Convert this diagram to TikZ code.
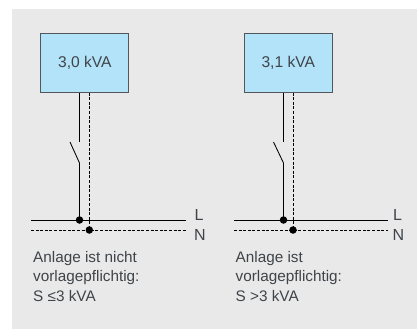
\documentclass[tikz,border=0pt]{standalone}
\usepackage{fontspec}
\setmainfont{Liberation Sans}
\definecolor{panel}{HTML}{E9E9E9}
\definecolor{boxfill}{HTML}{B3E3F9}
\definecolor{ink}{HTML}{3F4449}
\tikzset{
  x=1pt,y=-1pt,
  panelbox/.style={draw=none,fill=panel},
  load/.style={draw=ink!90,line width=0.9pt,fill=boxfill,minimum width=88pt,minimum height=59pt,inner sep=0pt,font=\fontsize{15.6}{18}\selectfont,text=ink},
  live/.style={draw=black,line width=0.85pt},
  neutral/.style={draw=black,line width=0.8pt,dash pattern=on 3pt off 1.6pt},
  joint/.style={circle,fill=black,inner sep=0pt,minimum size=7.5pt},
  busname/.style={font=\fontsize{16}{18}\selectfont,text=ink,inner sep=0pt,anchor=west},
  caption/.style={font=\fontsize{15.3}{19.6}\selectfont,text=ink,inner sep=0pt,anchor=north west,align=left}
}
\begin{document}
\begin{tikzpicture}
\useasboundingbox (0,0) rectangle (417,329);
\fill[panelbox] (12,9) rectangle (417,329);
% left
\node[load] (a) at (84.4,63) {\hspace{1pt}3,0 kVA};
\coordinate (aL) at (79.5,92.5);
\coordinate (aN) at (89.3,92.5);
\coordinate (aS1) at (79.5,141.5);
\coordinate (aS2) at (70,142);
\coordinate (aS3) at (79.5,163);
\node[joint] (aJL) at (79.5,220) {};
\node[joint] (aJN) at (89.3,230) {};
\coordinate (aL0) at (31,220);
\coordinate (aL1) at (186,220);
\coordinate (aN0) at (31,230);
\coordinate (aN1) at (186,230);
\draw[live] (aL) -- (aS1);
\draw[live] (aS2) -- (aS3) -- (aJL.center);
\draw[neutral] (aN) -- (aJN.center);
\draw[live] (aL0) -- (aL1);
\draw[neutral] (aN0) -- (aN1);
\node[busname] (aLt) at (194.5,215) {L};
\node[busname] (aNt) at (194,234.5) {N};
\node[caption] (aC) at (33,251) {Anlage ist nicht\\vorlagepflichtig:\\S ≤3 kVA};
% right
\node[load] (b) at (288.3,63) {3,1 kVA};
\coordinate (bL) at (283.5,92.5);
\coordinate (bN) at (293,92.5);
\coordinate (bS1) at (283.5,141.5);
\coordinate (bS2) at (273.5,142);
\coordinate (bS3) at (283.5,163);
\node[joint] (bJL) at (283.5,220) {};
\node[joint] (bJN) at (293,230) {};
\coordinate (bL0) at (234,220);
\coordinate (bL1) at (388,220);
\coordinate (bN0) at (234,230);
\coordinate (bN1) at (388,230);
\draw[live] (bL) -- (bS1);
\draw[live] (bS2) -- (bS3) -- (bJL.center);
\draw[neutral] (bN) -- (bJN.center);
\draw[live] (bL0) -- (bL1);
\draw[neutral] (bN0) -- (bN1);
\node[busname] (bLt) at (393,215) {L};
\node[busname] (bNt) at (392.5,234.5) {N};
\node[caption] (bC) at (235.5,251) {Anlage ist\\vorlagepflichtig:\\S >3 kVA};
\end{tikzpicture}
\end{document}
